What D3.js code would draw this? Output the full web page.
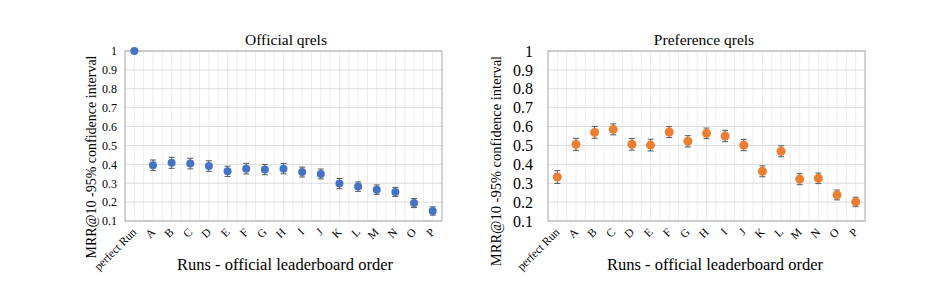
<!DOCTYPE html>
<html><head><meta charset="utf-8">
<script src="https://cdn.jsdelivr.net/npm/d3@7"></script>
<style>
html,body{margin:0;padding:0;background:#fff;}
svg, svg text{font-family:'Liberation Serif','DejaVu Serif',serif !important;}
</style></head>
<body><svg id="chart" width="936" height="304"></svg>
<script>
const categories = ["perfect Run","A","B","C","D","E","F","G","H","I","J","K","L","M","N","O","P"];
const officialMRR = [1.0,0.395,0.408,0.404,0.391,0.363,0.377,0.372,0.377,0.359,0.349,0.298,0.282,0.266,0.254,0.195,0.153];
const officialErr = [0,0.028,0.029,0.028,0.028,0.027,0.028,0.027,0.027,0.026,0.026,0.027,0.025,0.025,0.024,0.024,0.022];
const prefMRR = [0.333,0.506,0.569,0.585,0.506,0.502,0.571,0.522,0.564,0.550,0.502,0.363,0.469,0.322,0.326,0.238,0.201];
const prefErr = [0.034,0.032,0.031,0.029,0.031,0.031,0.029,0.030,0.028,0.030,0.030,0.029,0.029,0.030,0.028,0.026,0.025];
const yTicks = [0.1,0.2,0.3,0.4,0.5,0.6,0.7,0.8,0.9,1];
const yTickLabels = ["0.1","0.2","0.3","0.4","0.5","0.6","0.7","0.8","0.9","1"];

const svg = d3.select("#chart");

function panel(cfg){
  const g = svg.append("g");
  const x = d3.scaleBand().domain(categories).range([cfg.x0, cfg.x1]).padding(0);
  const y = d3.scaleLinear().domain([0.1,1]).range([cfg.y1, cfg.y0]);
  const bw = x.bandwidth();
  const vx = [];
  categories.forEach(c => { vx.push(x(c)); vx.push(x(c)+bw/2); });
  g.selectAll(".vg").data(vx.slice(1)).enter().append("line")
    .attr("x1", d=>d).attr("x2", d=>d).attr("y1", cfg.y0).attr("y2", cfg.y1)
    .attr("stroke", "#ececec").attr("stroke-width", 1);
  g.selectAll(".hg").data(yTicks).enter().append("line")
    .attr("x1", cfg.x0).attr("x2", cfg.x1).attr("y1", d=>y(d)).attr("y2", d=>y(d))
    .attr("stroke", "#dcdcdc").attr("stroke-width", 1);
  g.append("rect").attr("x", cfg.x0).attr("y", cfg.y0)
    .attr("width", cfg.x1-cfg.x0).attr("height", cfg.y1-cfg.y0)
    .attr("fill","none").attr("stroke","#a6a6a6").attr("stroke-width",1);
  const ya = d3.axisLeft(y).tickValues(yTicks).tickSize(0).tickPadding(cfg.tickPad)
    .tickFormat((d,i)=>yTickLabels[i]);
  const yg = g.append("g").attr("transform",`translate(${cfg.x0},0)`).call(ya);
  yg.select(".domain").remove();
  yg.attr("font-family", null);
  yg.selectAll("text").attr("font-size", cfg.tickFont).attr("fill","#000");
  const xa = d3.axisBottom(x).tickSize(0).tickPadding(0);
  const xg = g.append("g").attr("transform",`translate(0,${cfg.y1})`).call(xa);
  xg.select(".domain").remove();
  xg.attr("font-family", null);
  xg.selectAll("text")
    .attr("font-size", 11.5).attr("fill","#000")
    .attr("text-anchor","end").attr("dy","0.35em")
    .attr("transform", "translate(0,9) rotate(-45)");
  const eg = g.append("g");
  cfg.vals.forEach((v,i)=>{
    const e = cfg.errs[i];
    if(!e) return;
    const cx = x(categories[i]) + bw/2;
    eg.append("line").attr("x1",cx).attr("x2",cx).attr("y1",y(v+e)).attr("y2",y(v-e))
      .attr("stroke","#595959").attr("stroke-width",1);
    [v+e, v-e].forEach(t=>{
      eg.append("line").attr("x1",cx-3).attr("x2",cx+3).attr("y1",y(t)).attr("y2",y(t))
        .attr("stroke","#595959").attr("stroke-width",1);
    });
  });
  g.selectAll(".pt").data(cfg.vals).enter().append("circle")
    .attr("cx",(d,i)=>x(categories[i])+bw/2).attr("cy",d=>y(d))
    .attr("r", cfg.r).attr("fill", cfg.color);
  g.append("text").attr("x", cfg.titleX).attr("y", 45).attr("text-anchor","middle")
    .attr("font-size", 15.5).text(cfg.title);
  g.append("text").attr("x", cfg.xTitleX).attr("y", 270).attr("text-anchor","middle")
    .attr("font-size", 16.5).text("Runs - official leaderboard order");
  g.append("text").attr("transform",`translate(${cfg.yTitleX},${cfg.yTitleY}) rotate(-90)`)
    .attr("text-anchor","middle").attr("font-size", cfg.yTitleFont)
    .text("MRR@10 -95% confidence interval");
}

panel({x0:125,x1:442,y0:51,y1:221,vals:officialMRR,errs:officialErr,color:"#4472C4",r:4,
  tickPad:8,tickFont:12,title:"Official qrels",titleX:286,xTitleX:285,yTitleX:96,yTitleY:157,yTitleFont:14});
panel({x0:548,x1:865,y0:51,y1:221,vals:prefMRR,errs:prefErr,color:"#ED7D31",r:4.5,
  tickPad:15,tickFont:16,title:"Preference qrels",titleX:704,xTitleX:715,yTitleX:501,yTitleY:161,yTitleFont:14.5});
</script></body></html>
